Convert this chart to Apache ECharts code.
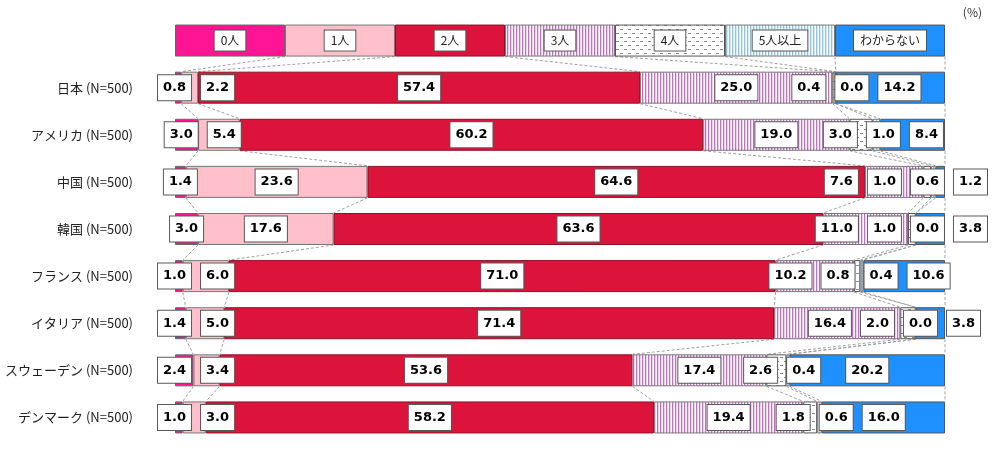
<!DOCTYPE html>
<html><head><meta charset="utf-8">
<script src="https://cdn.jsdelivr.net/npm/echarts@6/dist/echarts.min.js"></script>
<style>html,body{margin:0;padding:0;background:#fff}#c{width:1000px;height:450px}</style>
</head><body><div id="c"></div>
<script>
// ---- data ----
const countries = ['日本 (N=500)','アメリカ (N=500)','中国 (N=500)','韓国 (N=500)','フランス (N=500)','イタリア (N=500)','スウェーデン (N=500)','デンマーク (N=500)'];
const seriesNames = ['0人','1人','2人','3人','4人','5人以上','わからない'];
const v0 = [0.8, 3.0, 1.4, 3.0, 1.0, 1.4, 2.4, 1.0];
const v1 = [2.2, 5.4, 23.6, 17.6, 6.0, 5.0, 3.4, 3.0];
const v2 = [57.4, 60.2, 64.6, 63.6, 71.0, 71.4, 53.6, 58.2];
const v3 = [25.0, 19.0, 7.6, 11.0, 10.2, 16.4, 17.4, 19.4];
const v4 = [0.4, 3.0, 1.0, 1.0, 0.8, 2.0, 2.6, 1.8];
const v5 = [0.0, 1.0, 0.6, 0.0, 0.4, 0.0, 0.4, 0.6];
const v6 = [14.2, 8.4, 1.2, 3.8, 10.6, 3.8, 20.2, 16.0];
const unitLabel = '(%)';

const valueSets = [v0, v1, v2, v3, v4, v5, v6];
const nSeg = seriesNames.length;
const legendShare = 100 / nSeg;
const yCats = [''].concat(countries);

// row values (row 0 = legend bar with equal shares)
function rowValues(r) {
  if (r === 0) return seriesNames.map(() => legendShare);
  return valueSets.map(a => a[r - 1]);
}
function rowCum(r) {
  const vals = rowValues(r); const c = [0];
  vals.forEach(v => c.push(c[c.length - 1] + v));
  return c;
}

// ---- patterns ----
function makePattern(w, h, draw) {
  const c = document.createElement('canvas'); c.width = w; c.height = h;
  const g = c.getContext('2d'); draw(g); return { image: c, repeat: 'repeat' };
}
const pat3 = makePattern(3, 4, g => { g.fillStyle = '#fff'; g.fillRect(0,0,3,4); g.fillStyle = '#c86cc8'; g.fillRect(0,0,1,4); g.fillStyle = '#ecd0ec'; g.fillRect(1,0,1,4); });
const pat4 = makePattern(8, 8, g => { g.fillStyle = '#fff'; g.fillRect(0,0,8,8); g.fillStyle = '#8a8a8a'; g.fillRect(0,1,3,1); g.fillRect(4,5,3,1); });
const pat5 = makePattern(3, 4, g => { g.fillStyle = '#fff'; g.fillRect(0,0,3,4); g.fillStyle = '#8cc4e6'; g.fillRect(0,0,1,4); g.fillStyle = '#d6eaf6'; g.fillRect(1,0,1,4); });

const fills = ['#ff1493', '#ffc0cb', '#dc143c', pat3, pat4, pat5, '#1e90ff'];
const borders = ['#666', '#777', '#8e1028', '#777', '#555', '#777', '#555'];

const BAR_W = 32;
const LABEL_FONT = 'bold 13px "DejaVu Sans"';
const LEG_FONT = '12px "Noto Sans CJK JP"';
const measureCtx = document.createElement('canvas').getContext('2d');
function textW(t, font) { measureCtx.font = font; return measureCtx.measureText(t).width; }

// label layout per row: keep order, no overlap, minimal displacement (PAVA)
const layoutCache = {};
function layoutRow(r, api) {
  const p0 = api.coord([0, r]); const p1 = api.coord([100, r]);
  const key = r + ':' + p0[0] + ':' + p1[0];
  if (layoutCache[key]) return layoutCache[key];
  const vals = rowValues(r); const cum = rowCum(r);
  const texts = vals.map(v => v.toFixed(1));
  const widths = texts.map(t => textW(t, LABEL_FONT) + 12);
  const centers = vals.map((v, i) => api.coord([cum[i] + v / 2, r])[0]);
  const gap = 8;
  const s = [0];
  for (let i = 1; i < vals.length; i++) s.push(s[i - 1] + (widths[i - 1] + widths[i]) / 2 + gap);
  const blocks = [];
  for (let i = 0; i < vals.length; i++) {
    blocks.push({ sum: centers[i] - s[i], n: 1, start: i });
    while (blocks.length > 1) {
      const b = blocks[blocks.length - 1], a = blocks[blocks.length - 2];
      if (a.sum / a.n > b.sum / b.n) { a.sum += b.sum; a.n += b.n; blocks.pop(); } else break;
    }
  }
  const xs = [];
  blocks.forEach(b => { for (let k = 0; k < b.n; k++) xs.push(b.sum / b.n + s[b.start + k]); });
  const minL = p0[0] - 18, maxR = p1[0] + 43;
  xs[0] = Math.max(xs[0], minL + widths[0] / 2);
  for (let i = 1; i < xs.length; i++) xs[i] = Math.max(xs[i], xs[i - 1] + s[i] - s[i - 1]);
  const n = xs.length;
  xs[n - 1] = Math.min(xs[n - 1], maxR - widths[n - 1] / 2);
  for (let i = n - 2; i >= 0; i--) xs[i] = Math.min(xs[i], xs[i + 1] - (s[i + 1] - s[i]));
  const res = { xs, texts };
  layoutCache[key] = res;
  return res;
}

// bar series
const series = seriesNames.map((name, k) => ({
  name, type: 'bar', stack: 'total', barWidth: BAR_W, z: 2,
  data: [legendShare].concat(valueSets[k]),
  itemStyle: { color: fills[k], borderColor: borders[k], borderWidth: 1 },
  emphasis: { disabled: true }, silent: true
}));

// series lines (dashed connectors between consecutive rows)
const lineData = [];
for (let r = 0; r < yCats.length - 1; r++) {
  const ca = rowCum(r), cb = rowCum(r + 1);
  for (let k = 1; k <= nSeg; k++) lineData.push([ca[k], r, cb[k], r + 1]);
}
series.push({
  type: 'custom', coordinateSystem: 'cartesian2d', z: 1, silent: true,
  encode: { x: [0, 2], y: [1, 3] },
  data: lineData,
  renderItem: (params, api) => {
    const a = api.coord([api.value(0), api.value(1)]);
    const b = api.coord([api.value(2), api.value(3)]);
    return { type: 'line', shape: { x1: a[0], y1: a[1] + BAR_W / 2, x2: b[0], y2: b[1] - BAR_W / 2 },
      style: { stroke: '#a0a0a0', lineWidth: 1, lineDash: [3, 2] } };
  }
});

// value / legend labels
const labelData = [];
for (let r = 0; r < yCats.length; r++) {
  const cum = rowCum(r); const vals = rowValues(r);
  for (let k = 0; k < nSeg; k++) labelData.push([cum[k] + vals[k] / 2, r, k]);
}
series.push({
  type: 'custom', coordinateSystem: 'cartesian2d', z: 5, silent: true,
  encode: { x: 0, y: 1 },
  data: labelData,
  renderItem: (params, api) => {
    const r = api.value(1), k = api.value(2);
    const p = api.coord([api.value(0), r]);
    if (r === 0) {
      return { type: 'text', x: p[0], y: p[1], style: { text: seriesNames[k], font: LEG_FONT, fill: '#222',
        align: 'center', verticalAlign: 'middle', backgroundColor: '#fff', borderColor: '#555', borderWidth: 1, padding: [4, 6] } };
    }
    const L = layoutRow(r, api);
    return { type: 'text', x: L.xs[k], y: p[1], style: { text: L.texts[k], font: LABEL_FONT, fill: '#000',
      align: 'center', verticalAlign: 'middle', backgroundColor: '#fff', borderColor: '#595959', borderWidth: 1, padding: [6, 5] } };
  }
});

const chart = echarts.init(document.getElementById('c'), null, { renderer: 'canvas' });
chart.setOption({
  animation: false,
  backgroundColor: '#fff',
  grid: { left: 175, right: 55, top: 17, bottom: 9, containLabel: false, outerBoundsMode: 'none' },
  xAxis: { type: 'value', min: 0, max: 100, show: false },
  yAxis: { type: 'category', inverse: true, data: yCats,
    axisLine: { show: false }, axisTick: { show: false }, splitLine: { show: false },
    axisLabel: { margin: 42, fontSize: 13, color: '#222', fontFamily: '"Noto Sans CJK JP"' } },
  graphic: [{ type: 'text', right: 18, top: 6, style: { text: unitLabel, font: '12px "Noto Sans CJK JP"', fill: '#333' } }],
  series
});
</script>
</body></html>
